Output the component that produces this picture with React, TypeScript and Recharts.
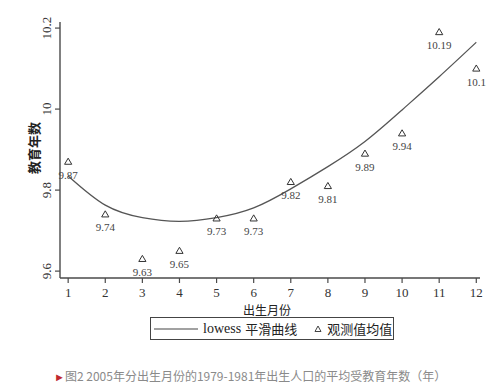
import React from 'react';
import { ComposedChart, Line, Scatter, XAxis, YAxis, Legend } from 'recharts';

const months = [1, 2, 3, 4, 5, 6, 7, 8, 9, 10, 11, 12];
const observed = [9.87, 9.74, 9.63, 9.65, 9.73, 9.73, 9.82, 9.81, 9.89, 9.94, 10.19, 10.1];
const lowess = [9.835, 9.763, 9.732, 9.723, 9.732, 9.756, 9.803, 9.858, 9.92, 9.998, 10.08, 10.165];
const yTicks = [9.6, 9.8, 10, 10.2];
const xTicks = months;
const lineName = 'lowess 平滑曲线';
const scatterName = '观测值均值';
const xLabel = '出生月份';
const yLabel = '教育年数';
const caption = '图2 2005年分出生月份的1979-1981年出生人口的平均受教育年数（年）';

const data = months.map((m, i) => ({ month: m, value: observed[i], lowess: lowess[i] }));

const SERIF = '"Liberation Serif", "DejaVu Serif", serif';
const CJK = '"Noto Sans CJK SC", "Noto Sans", sans-serif';
const AXIS = '#4a4a4a';

const TriangleShape = (props: any) => {
  const { cx, cy, payload } = props;
  if (cx == null || cy == null) return null;
  const s = 3.6;
  const pts = `${cx},${cy - s} ${cx - s},${cy + s * 0.7} ${cx + s},${cy + s * 0.7}`;
  return (
    <g>
      <polygon points={pts} fill="none" stroke="#333" strokeWidth={1} />
      <text x={cx} y={cy + 13} textAnchor="middle" dominantBaseline="central" fontFamily={SERIF} fontSize={11} fill="#444">
        {String(payload.value)}
      </text>
    </g>
  );
};

const YTick = (props: any) => {
  const { x, y, payload } = props;
  const tx = x - 6;
  return (
    <text x={tx} y={y} transform={`rotate(-90, ${tx}, ${y})`} textAnchor="middle" dominantBaseline="central" fontFamily={SERIF} fontSize={13} fill="#333">
      {String(payload.value)}
    </text>
  );
};

const XTick = (props: any) => {
  const { x, y, payload } = props;
  return (
    <text x={x} y={y + 7} textAnchor="middle" dominantBaseline="central" fontFamily={SERIF} fontSize={13} fill="#333">
      {String(payload.value)}
    </text>
  );
};

const YLabel = (props: any) => {
  const vb = props.viewBox || {};
  const x = vb.x + 13;
  const y = vb.y + vb.height / 2 - 2;
  return (
    <text x={x} y={y} transform={`rotate(-90, ${x}, ${y})`} textAnchor="middle" dominantBaseline="central" fontFamily={CJK} fontSize={13} fontWeight={700} fill="#222">
      {yLabel}
    </text>
  );
};

const XLabel = (props: any) => {
  const vb = props.viewBox || {};
  const x = vb.x + vb.width / 2 - 3;
  const y = vb.y + 31;
  return (
    <text x={x} y={y} textAnchor="middle" dominantBaseline="central" fontFamily={CJK} fontSize={12} fill="#222">
      {xLabel}
    </text>
  );
};

const LegendBox = () => (
  <div
    style={{
      border: '1.5px solid #444',
      height: 23,
      boxSizing: 'border-box',
      display: 'flex',
      alignItems: 'center',
      paddingLeft: 3,
      fontSize: 13,
      color: '#222',
      background: '#fff',
    }}
  >
    <svg width={44} height={10} style={{ display: 'block' }}>
      <line x1={0} y1={5} x2={44} y2={5} stroke="#444" strokeWidth={1.2} />
    </svg>
    <span style={{ marginLeft: 5, fontFamily: SERIF, fontSize: 14 }}>lowess</span>
    <span style={{ marginLeft: 4, fontFamily: CJK, fontSize: 13 }}>平滑曲线</span>
    <svg width={10} height={10} style={{ display: 'block', marginLeft: 16 }}>
      <polygon points="5,2 2,7.5 8,7.5" fill="none" stroke="#444" strokeWidth={1} />
    </svg>
    <span style={{ marginLeft: 4, fontFamily: CJK, fontSize: 13 }}>{scatterName}</span>
  </div>
);

export default function App() {
  return (
    <div style={{ position: 'absolute', left: 0, top: 0, width: 500, height: 389, background: '#fff', overflow: 'hidden' }}>
      <ComposedChart width={500} height={389} data={data} margin={{ top: 22, right: 20, left: 20, bottom: 81 }}>
        <XAxis
          dataKey="month"
          type="number"
          domain={[0.78, 12.1]}
          ticks={xTicks}
          tick={<XTick />}
          tickSize={5}
          height={30}
          stroke={AXIS}
          strokeWidth={1.4}
          tickLine={{ stroke: AXIS, strokeWidth: 1.2 }}
          label={<XLabel />}
        />
        <YAxis
          type="number"
          domain={[9.583, 10.215]}
          ticks={yTicks}
          tick={<YTick />}
          tickSize={5}
          width={40}
          stroke={AXIS}
          strokeWidth={1.4}
          tickLine={{ stroke: AXIS, strokeWidth: 1.2 }}
          label={<YLabel />}
        />
        <Legend
          layout="horizontal"
          verticalAlign="middle"
          align="center"
          wrapperStyle={{ left: 150, top: 317, width: 244, height: 23 }}
          content={() => <LegendBox />}
        />
        <Line
          type="natural"
          dataKey="lowess"
          name={lineName}
          stroke="#555"
          strokeWidth={1.3}
          dot={false}
          activeDot={false}
          isAnimationActive={false}
        />
        <Scatter dataKey="value" name={scatterName} shape={<TriangleShape />} isAnimationActive={false} />
      </ComposedChart>
      <div
        style={{
          position: 'absolute',
          left: 54,
          top: 367,
          fontFamily: CJK,
          fontSize: 12,
          color: '#8a8a8a',
          whiteSpace: 'nowrap',
          lineHeight: '18px',
        }}
      >
        <span style={{ color: '#c0282e', fontSize: 11 }}>►</span>
        {caption}
      </div>
    </div>
  );
}
